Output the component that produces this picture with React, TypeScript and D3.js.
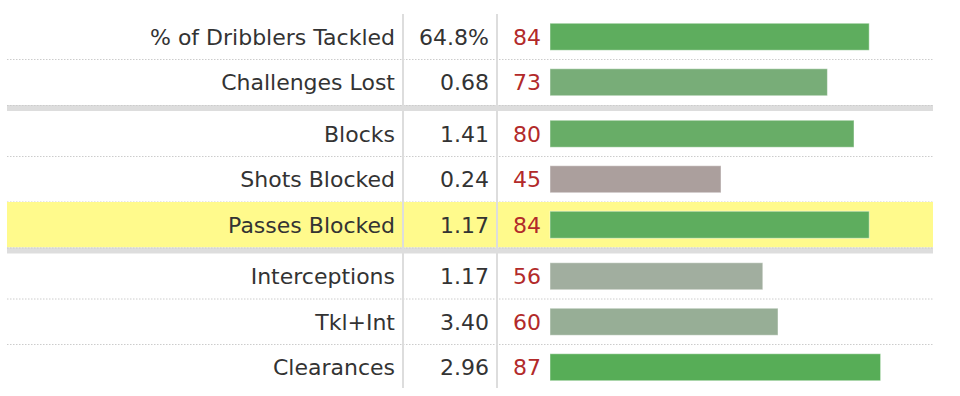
import React from 'react'
import * as d3 from 'd3'

// rows of the defensive table
const labels = [
  '% of Dribblers Tackled',
  'Challenges Lost',
  'Blocks',
  'Shots Blocked',
  'Passes Blocked',
  'Interceptions',
  'Tkl+Int',
  'Clearances'
]
const values = ['64.8%', '0.68', '1.41', '0.24', '1.17', '1.17', '3.40', '2.96']
const percentiles = [84, 73, 80, 45, 84, 56, 60, 87]
const groups = [0, 0, 1, 1, 1, 2, 2, 2]
const highlighted = ['Passes Blocked']

const width = 960
const height = 396
const top = 14
const rowH = 45.5
const bandH = 6
const left = 7
const right = 933

const x = d3.scaleLinear().domain([0, 100]).range([550, 930])
const color = d3
  .scaleLinear<string>()
  .domain([45, 56, 87])
  .range(['#ab9f9d', '#a1ae9f', '#57ad57'])
  .interpolate(d3.interpolateRgb)

function rowTop(i: number) {
  return top + i * rowH + groups[i] * bandH
}

export default function App() {
  const font = 'DejaVu Sans, Verdana, sans-serif'
  const last = labels.length - 1
  const bottom = rowTop(last) + rowH

  return (
    <svg
      width={width}
      height={height}
      style={{ position: 'absolute', left: 0, top: 0, background: '#fff' }}
      fontFamily={font}
      fontSize={22}
    >
      {labels.map((label, i) => {
        const y0 = rowTop(i)
        const cy = y0 + rowH / 2
        const hl = highlighted.includes(label)
        return (
          <g key={label}>
            {hl && <rect x={left} y={y0} width={right - left} height={rowH} fill="#fffa8c" />}
            <text x={395} y={cy} dy="0.36em" textAnchor="end" fill="#333">
              {label}
            </text>
            <text x={489} y={cy} dy="0.36em" textAnchor="end" fill="#333">
              {values[i]}
            </text>
            <text x={541} y={cy} dy="0.36em" textAnchor="end" fill="#b22a2a">
              {percentiles[i]}
            </text>
            <rect
              x={x(0)}
              y={cy - 13.5}
              width={x(percentiles[i]) - x(0)}
              height={27}
              fill={color(percentiles[i])}
              stroke="#ffffff"
              strokeOpacity={0.45}
              strokeWidth={1}
            />
            {i < last && groups[i + 1] === groups[i] && (
              <line
                x1={left}
                x2={right}
                y1={y0 + rowH}
                y2={y0 + rowH}
                stroke="#ccc"
                strokeDasharray="1.5 1.5"
              />
            )}
            {i < last && groups[i + 1] !== groups[i] && (
              <g>
                <rect x={left} y={y0 + rowH} width={right - left} height={bandH} fill="#dddddd" />
                <line
                  x1={left}
                  x2={right}
                  y1={y0 + rowH + 0.5}
                  y2={y0 + rowH + 0.5}
                  stroke="#ccc"
                  strokeDasharray="1.5 1.5"
                />
              </g>
            )}
          </g>
        )
      })}
      <line x1={403} x2={403} y1={top} y2={bottom - 2} stroke="#ddd" strokeWidth={2} />
      <line x1={497} x2={497} y1={top} y2={bottom - 2} stroke="#ddd" strokeWidth={2} />
    </svg>
  )
}
